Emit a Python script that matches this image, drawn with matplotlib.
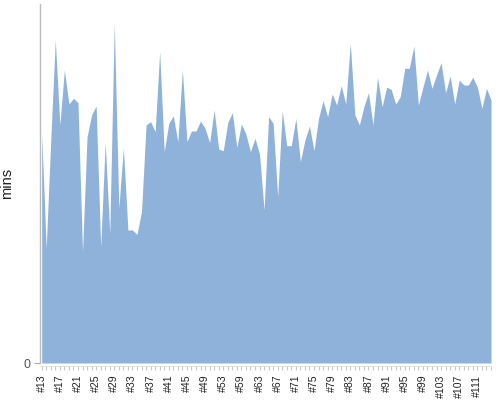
import matplotlib.pyplot as plt

# build numbers; a couple of builds are missing between #53 and #59
build_numbers = list(range(13, 54)) + [55, 57, 58] + list(range(59, 115))
build_labels = [f"#{n}" for n in build_numbers]

durations_mins = [
    22.97, 11.47, 22.30, 32.30, 23.80, 29.30, 25.90, 26.47, 26.03, 11.13,
    22.63, 24.80, 25.70, 11.63, 22.03, 12.97, 33.97, 15.47, 21.53, 13.30,
    13.30, 12.87, 15.13, 23.80, 24.13, 23.13, 31.13, 21.13, 23.97, 24.70,
    22.13, 29.30, 22.13, 23.20, 23.20, 24.20, 23.47, 22.03, 25.30, 21.40,
    21.23, 24.03, 25.03, 21.57, 23.90, 22.90, 21.13, 22.47, 20.90, 15.30,
    24.63, 23.97, 16.63, 25.20, 21.73, 21.73, 24.47, 20.13, 22.30, 23.70,
    21.23, 24.47, 26.23, 24.63, 26.90, 25.80, 27.73, 25.90, 31.97, 24.80,
    23.80, 25.63, 27.03, 23.80, 28.57, 25.63, 27.57, 27.37, 25.90, 26.63,
    29.47, 29.47, 31.70, 25.80, 27.57, 29.30, 27.47, 28.80, 30.03, 27.03,
    28.70, 25.90, 28.30, 27.80, 27.80, 28.57, 27.57, 25.47, 27.47, 26.30,
]

plt.rcParams["font.family"] = ["Liberation Sans", "DejaVu Sans"]

fig = plt.figure(figsize=(5, 4), dpi=100)
ax = fig.add_axes([40 / 500, 37 / 400, 451 / 500, 359 / 400])

x = list(range(len(durations_mins)))
ax.fill_between(x, durations_mins, 0, color="#8fb2da", linewidth=0)

ax.set_xlim(-0.37, len(x) - 1)
ax.set_ylim(0, 35.9)

ax.set_xticks(x[::4])
ax.set_xticklabels(build_labels[::4])
ax.set_xticks(x, minor=True)
ax.tick_params(axis="x", which="both", length=3, width=0.6, color="#bbbbbb",
               direction="out", pad=3.5, labelrotation=90, labelsize=7.6,
               labelcolor="#222222")

ax.set_yticks([0])
ax.set_yticklabels(["0"])
ax.tick_params(axis="y", length=4, width=0.8, color="#aaaaaa", pad=3,
               labelsize=9, labelcolor="#555555")
ax.set_ylabel("mins", fontsize=10.5, color="#222")
ax.yaxis.set_label_coords(-0.058, 0.5)

for side in ("top", "right"):
    ax.spines[side].set_visible(False)
ax.spines["left"].set_color("#bbbbbb")
ax.spines["left"].set_linewidth(1)
ax.spines["bottom"].set_color("#dddddd")
ax.spines["bottom"].set_linewidth(0.6)
ax.spines["bottom"].set_position(("outward", 2))

fig.savefig("out.png", dpi=100)
